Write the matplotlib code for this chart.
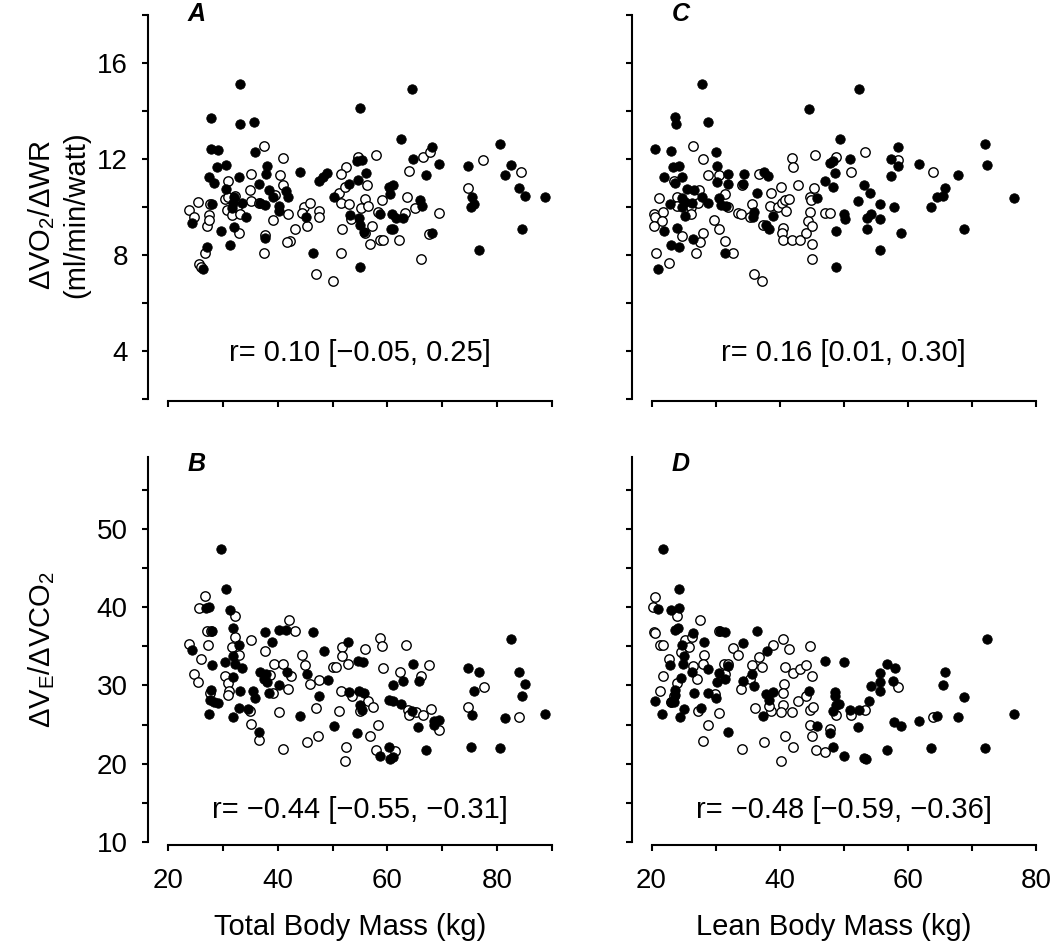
import numpy as np
import matplotlib.pyplot as plt
from matplotlib.ticker import FixedLocator

plt.rcParams['font.family'] = ['Liberation Sans', 'DejaVu Sans']
plt.rcParams['mathtext.default'] = 'regular'

# ---- data ----
# Panel A: dVO2/dWR vs total body mass
a_fill_x = [33.1, 27.8, 33.1, 35.6, 55.0, 27.8, 29.2, 35.9, 30.6, 28.9, 38.0, 37.9, 44.0, 27.4, 28.3,
            33.0, 30.6, 36.5, 38.4, 39.1, 41.5, 41.8, 28.1, 32.0, 31.9, 33.4, 31.6, 36.8, 37.7, 40.3,
            40.3, 24.3, 34.3, 29.6, 32.0, 37.6, 31.3, 27.2, 26.3, 48.9, 48.3, 47.5, 45.2, 46.4, 50.3,
            53.0, 54.7, 54.4, 55.3, 53.2, 54.9, 55.0, 55.7, 55.0, 64.4, 62.4, 68.2, 64.6, 69.4, 67.0,
            56.1, 60.3, 61.1, 60.5, 65.9, 66.3, 58.6, 60.9, 61.6, 62.8, 60.6, 61.1, 68.2, 74.6, 80.6,
            82.5, 81.4, 84.0, 85.1, 88.8, 75.5, 75.8, 75.3, 84.6, 76.7]
a_fill_y = [15.13, 13.72, 13.47, 13.54, 14.11, 12.40, 12.37, 12.28, 11.76, 11.65, 11.72, 11.38, 11.46, 11.26, 11.01,
            11.25, 10.74, 10.94, 10.69, 10.43, 10.65, 10.40, 10.13, 10.40, 10.15, 10.18, 9.97, 10.18, 10.08, 10.06,
            9.85, 9.35, 9.60, 9.00, 9.15, 8.69, 8.40, 8.35, 7.42, 11.42, 11.26, 11.08, 9.60, 8.10, 10.42,
            10.97, 11.13, 11.92, 11.96, 9.67, 9.53, 9.25, 8.97, 7.51, 14.92, 12.83, 12.49, 11.99, 11.78, 11.32,
            11.40, 10.85, 10.92, 10.54, 10.29, 10.04, 9.71, 9.71, 9.53, 9.54, 9.08, 9.07, 8.93, 11.72, 12.63,
            11.76, 11.33, 10.78, 10.47, 10.40, 10.43, 10.13, 10.01, 9.08, 8.19]
a_open_x = [37.5, 41.0, 31.0, 35.1, 40.4, 41.0, 35.0, 25.5, 23.9, 24.8, 27.4, 27.2, 27.7, 27.4, 30.7,
            30.4, 31.0, 32.2, 32.6, 31.6, 33.1, 35.1, 36.5, 39.5, 39.2, 41.9, 32.9, 37.7, 43.1, 42.2,
            41.7, 37.5, 26.7, 25.7, 26.0, 44.8, 45.9, 44.5, 47.6, 47.6, 45.4, 47.0, 50.1, 51.6, 51.8,
            51.2, 51.5, 53.0, 53.3, 52.3, 52.4, 51.6, 54.7, 55.1, 56.0, 56.0, 57.9, 56.3, 56.5, 57.1,
            56.8, 59.0, 58.2, 63.6, 63.2, 65.0, 64.0, 66.4, 67.8, 69.4, 58.6, 59.2, 62.2, 67.5, 66.1,
            77.5, 74.7, 84.3]
a_open_y = [12.56, 12.03, 11.08, 11.36, 11.33, 10.92, 10.71, 10.22, 9.88, 9.60, 9.67, 9.22, 10.13, 9.46, 9.88,
            10.32, 10.43, 10.46, 9.99, 9.67, 9.69, 10.26, 10.15, 10.50, 9.46, 9.69, 8.90, 8.83, 9.07, 8.58,
            8.56, 8.10, 8.10, 7.63, 7.51, 9.99, 10.18, 9.76, 9.85, 9.57, 9.22, 7.19, 6.93, 8.10, 9.07,
            10.60, 10.18, 10.11, 9.49, 10.85, 11.65, 11.38, 12.07, 9.94, 10.32, 8.90, 12.17, 10.92, 10.04, 9.22,
            8.46, 10.29, 9.81, 10.43, 9.74, 9.94, 11.50, 12.07, 12.29, 9.74, 8.63, 8.63, 8.63, 8.88, 7.82,
            11.96, 10.81, 11.46]

# Panel C: dVO2/dWR vs lean body mass
c_fill_x = [27.8, 23.6, 23.8, 28.8, 44.5, 20.5, 23.1, 30.0, 23.4, 24.3, 30.2, 21.9, 24.8, 23.6, 30.2,
            32.0, 31.9, 34.4, 34.3, 37.5, 38.1, 25.5, 26.6, 27.9, 24.7, 25.3, 26.3, 22.9, 24.7, 28.8,
            30.5, 30.8, 31.7, 36.4, 25.3, 36.0, 35.8, 38.9, 24.0, 21.9, 37.9, 38.4, 26.5, 23.1, 24.3,
            31.5, 21.0, 52.3, 49.4, 45.9, 47.8, 48.3, 48.7, 51.0, 47.1, 48.3, 50.0, 50.2, 48.8, 48.8,
            52.2, 53.1, 54.1, 55.7, 53.7, 54.2, 55.6, 53.6, 55.6, 57.8, 59.0, 57.3, 58.5, 58.4, 57.3,
            61.8, 63.6, 64.6, 65.8, 65.5, 67.9, 68.7, 72.0, 72.4, 76.6]
c_fill_y = [15.11, 13.74, 13.46, 13.54, 14.08, 12.40, 12.35, 12.28, 11.65, 11.72, 11.72, 11.26, 11.24, 10.99, 11.06,
            11.36, 10.94, 11.38, 10.96, 11.44, 11.29, 10.74, 10.71, 10.43, 10.39, 10.22, 10.18, 10.13, 10.01, 10.18,
            10.36, 10.08, 10.06, 10.60, 9.63, 9.81, 9.57, 9.64, 9.14, 9.00, 9.25, 9.07, 8.67, 8.42, 8.35,
            8.10, 7.40, 14.90, 12.83, 10.39, 11.85, 11.93, 11.40, 11.99, 11.10, 10.83, 9.71, 9.49, 9.00, 7.50,
            10.25, 10.92, 10.57, 10.13, 9.56, 9.69, 9.51, 9.07, 8.19, 10.01, 8.92, 11.99, 11.71, 12.49, 11.31,
            11.78, 10.01, 10.43, 10.78, 10.47, 11.33, 9.08, 12.63, 11.74, 10.39]
c_open_x = [26.4, 28.0, 28.8, 30.5, 23.5, 27.4, 21.2, 24.0, 24.0, 26.1, 27.2, 31.4, 32.0, 20.4, 20.6,
            21.8, 21.7, 20.4, 26.1, 24.7, 28.1, 27.6, 26.9, 29.8, 30.5, 31.5, 32.7, 20.7, 22.7, 33.5,
            34.0, 34.1, 35.3, 35.7, 36.7, 38.6, 38.5, 40.2, 39.8, 40.3, 40.8, 41.4, 41.0, 40.5, 40.4,
            40.5, 41.9, 43.1, 44.1, 42.8, 41.9, 42.1, 37.4, 44.8, 44.9, 44.7, 44.4, 45.0, 45.1, 45.1,
            45.4, 45.5, 36.0, 37.2, 48.8, 51.1, 53.3, 58.5, 63.9, 47.1, 47.8]
c_open_y = [12.54, 12.01, 11.33, 11.33, 11.10, 10.71, 10.36, 10.43, 10.06, 10.01, 10.15, 10.54, 10.01, 9.69, 9.60,
            9.81, 9.42, 9.22, 9.69, 8.79, 8.90, 8.56, 8.10, 9.46, 9.07, 8.58, 8.10, 8.10, 7.68, 9.74,
            9.69, 10.92, 9.60, 10.13, 11.36, 10.57, 10.06, 10.85, 9.99, 10.18, 10.29, 10.32, 9.85, 9.11, 8.90,
            8.63, 8.63, 8.63, 8.90, 10.92, 12.06, 11.65, 9.25, 10.43, 10.29, 9.78, 9.43, 9.22, 8.46, 7.82,
            10.81, 12.17, 7.19, 6.93, 12.07, 11.47, 12.29, 11.96, 11.44, 9.74, 9.74]

# Panel B: dVE/dVCO2 vs total body mass
b_fill_x = [29.6, 30.6, 26.9, 27.5, 31.3, 31.9, 28.1, 37.6, 40.3, 41.5, 46.4, 38.9, 24.3, 33.0, 28.1,
            30.4, 31.9, 32.2, 33.4, 52.9, 48.4, 54.7, 55.5, 36.8, 37.9, 37.5, 38.0, 41.7, 45.4, 49.1,
            31.9, 40.3, 27.8, 33.1, 35.5, 35.9, 38.4, 47.6, 27.7, 28.4, 29.2, 33.0, 34.5, 27.4, 31.8,
            44.0, 53.0, 54.9, 55.7, 55.0, 55.3, 36.5, 50.3, 54.4, 82.5, 64.6, 74.6, 76.7, 84.0, 85.1,
            84.6, 62.8, 65.7, 61.1, 75.8, 60.3, 61.1, 62.4, 64.4, 69.4, 68.4, 68.5, 65.5, 75.5, 81.4,
            88.7, 67.0, 75.3, 80.6, 60.3, 58.6, 60.5, 61.1]
b_fill_y = [47.47, 42.39, 39.92, 40.0, 39.7, 37.36, 37.0, 36.8, 37.1, 37.06, 36.9, 35.57, 34.58, 35.2, 32.66,
            33.0, 33.73, 32.75, 32.24, 35.5, 34.45, 33.1, 33.0, 31.68, 31.5, 30.8, 30.4, 31.68, 31.5, 30.66,
            31.08, 30.0, 29.38, 29.33, 29.25, 28.4, 29.0, 28.6, 28.2, 27.84, 27.76, 27.1, 27.0, 26.4, 25.96,
            26.13, 29.16, 29.25, 29.1, 27.54, 26.9, 24.04, 24.77, 23.9, 36.0, 32.8, 32.24, 31.68, 31.72, 30.19,
            28.6, 30.53, 30.53, 30.0, 29.33, 28.1, 27.97, 27.63, 26.8, 25.6, 25.4, 24.98, 24.64, 26.18, 25.9,
            26.35, 21.78, 22.08, 21.95, 22.2, 20.93, 20.67, 20.8]
b_open_x = [26.7, 25.7, 32.3, 42.0, 43.1, 27.2, 27.8, 32.2, 27.3, 23.9, 35.1, 31.6, 32.9, 37.7, 26.1,
            44.5, 45.0, 51.7, 51.7, 55.9, 52.9, 50.1, 50.7, 39.3, 40.9, 24.8, 25.4, 30.4, 30.9, 31.1,
            31.0, 38.6, 42.5, 39.2, 41.9, 45.9, 47.6, 27.7, 51.5, 53.5, 35.0, 35.1, 40.3, 47.0, 51.2,
            55.0, 36.5, 41.0, 45.4, 47.4, 52.4, 52.3, 58.7, 59.1, 63.3, 59.2, 62.3, 66.2, 67.5, 56.5,
            57.3, 63.8, 64.0, 65.2, 66.4, 67.9, 69.4, 58.3, 56.8, 57.9, 61.4, 74.7, 77.6, 84.0]
b_open_y = [41.41, 39.92, 38.94, 38.34, 36.93, 36.93, 37.0, 36.2, 35.2, 35.3, 35.86, 34.9, 33.94, 34.37, 33.43,
            33.94, 32.66, 34.9, 33.73, 34.67, 32.79, 32.36, 32.32, 32.75, 32.79, 31.5, 30.4, 31.17, 30.3, 29.33,
            28.8, 31.38, 31.17, 29.0, 29.6, 30.19, 30.74, 29.0, 29.25, 28.7, 26.7, 25.1, 26.56, 27.1, 26.77,
            26.69, 23.06, 21.87, 22.76, 23.57, 22.2, 20.41, 36.08, 35.0, 35.2, 32.24, 31.68, 31.25, 32.58, 27.97,
            27.2, 26.9, 26.26, 26.56, 26.18, 27.03, 24.34, 24.98, 23.57, 21.78, 21.57, 27.24, 29.76, 25.96]

# Panel D: dVE/dVCO2 vs lean body mass
d_fill_x = [21.8, 24.3, 21.0, 23.1, 24.3, 23.6, 24.2, 26.5, 30.7, 31.5, 36.4, 28.2, 34.3, 24.8, 38.0,
            25.1, 22.9, 24.9, 26.3, 28.8, 30.5, 31.5, 32.0, 30.2, 34.3, 35.7, 36.0, 24.6, 23.6, 23.7,
            26.6, 28.8, 30.0, 20.5, 23.0, 23.5, 37.8, 39.0, 38.4, 44.5, 21.7, 25.0, 24.4, 27.7, 37.4,
            31.9, 47.1, 50.1, 56.8, 58.0, 55.6, 55.6, 54.2, 55.7, 57.7, 48.7, 48.7, 49.3, 48.8, 48.3,
            51.0, 52.3, 54.0, 52.2, 45.9, 47.8, 48.3, 50.1, 53.1, 53.5, 56.8, 57.9, 59.0, 61.8, 64.6,
            65.8, 65.5, 68.7, 67.8, 72.4, 63.6, 72.0, 76.6]
d_fill_y = [47.47, 42.35, 39.83, 39.62, 39.92, 37.06, 37.36, 36.7, 37.0, 36.85, 37.0, 35.57, 35.44, 35.14, 34.37,
            33.73, 32.66, 32.75, 31.68, 32.15, 31.6, 30.83, 32.45, 30.4, 30.6, 31.5, 29.9, 30.96, 29.38, 28.8,
            29.0, 29.1, 28.4, 28.05, 27.84, 27.84, 28.9, 29.16, 28.2, 29.33, 26.4, 27.0, 26.0, 27.1, 26.1,
            24.04, 33.1, 32.96, 32.75, 32.24, 31.6, 30.44, 29.97, 29.33, 30.6, 29.16, 28.7, 27.63, 27.46, 26.77,
            26.9, 26.9, 27.97, 24.64, 24.77, 23.9, 22.08, 20.93, 20.71, 20.63, 21.78, 25.3, 24.85, 25.5, 26.13,
            31.68, 30.1, 28.5, 25.96, 36.0, 21.99, 21.95, 26.35]
d_open_x = [20.6, 20.3, 20.4, 20.5, 21.4, 21.8, 24.0, 27.6, 25.3, 26.3, 25.9, 24.6, 22.8, 28.2, 28.1,
            26.5, 21.8, 24.0, 27.1, 21.4, 23.5, 23.1, 27.3, 29.9, 28.8, 30.5, 28.0, 30.5, 31.3, 32.0,
            31.5, 32.7, 33.5, 34.0, 35.7, 36.8, 37.2, 35.4, 36.1, 39.0, 40.5, 41.4, 40.9, 40.7, 40.5,
            40.5, 40.2, 38.7, 38.4, 41.9, 42.8, 42.1, 43.2, 44.1, 45.1, 44.1, 44.8, 44.7, 45.2, 44.7,
            45.0, 45.6, 40.9, 42.1, 37.5, 34.1, 40.2, 47.1, 47.8, 48.8, 51.1, 53.3, 58.5, 63.9]
d_open_y = [41.33, 40.0, 36.85, 36.7, 35.2, 35.2, 38.94, 38.34, 35.86, 36.16, 34.9, 34.24, 33.43, 33.94, 32.79,
            32.45, 31.17, 30.3, 30.83, 29.25, 28.6, 27.84, 26.77, 28.95, 24.98, 26.47, 22.97, 36.93, 32.79, 32.79,
            31.5, 34.8, 33.94, 29.55, 32.66, 33.64, 32.32, 30.83, 27.1, 35.2, 35.99, 34.67, 32.32, 30.19, 29.1,
            27.54, 26.56, 26.69, 27.33, 26.6, 28.05, 31.6, 32.15, 32.58, 31.17, 28.6, 35.0, 26.9, 27.2, 24.98,
            23.57, 21.78, 23.5, 22.2, 22.76, 21.87, 20.41, 21.48, 24.43, 26.26, 26.26, 26.9, 29.76, 25.92]

r_texts = ['r= 0.10 [\u22120.05, 0.25]', 'r= 0.16 [0.01, 0.30]',
           'r= \u22120.44 [\u22120.55, \u22120.31]', 'r= \u22120.48 [\u22120.59, \u22120.36]']
panel_letters = ['A', 'C', 'B', 'D']

# ---- layout ----
W, H = 1050, 952
fig = plt.figure(figsize=(W / 100, H / 100), dpi=100)


def box(l, t, r, b):
    return [l / W, 1 - b / H, (r - l) / W, (b - t) / H]


ax_a = fig.add_axes(box(148, 15, 552, 401))
ax_c = fig.add_axes(box(632, 15, 1036, 401))
ax_b = fig.add_axes(box(148, 457, 552, 845))
ax_d = fig.add_axes(box(632, 457, 1036, 845))

panels = [
    (ax_a, a_fill_x, a_fill_y, a_open_x, a_open_y, 90, True),
    (ax_c, c_fill_x, c_fill_y, c_open_x, c_open_y, 80, True),
    (ax_b, b_fill_x, b_fill_y, b_open_x, b_open_y, 90, False),
    (ax_d, d_fill_x, d_fill_y, d_open_x, d_open_y, 80, False),
]

fs = 20
for i, (ax, fx, fy, ox, oy, xmax, top) in enumerate(panels):
    ax.scatter(ox, oy, s=46, facecolor='white', edgecolor='black', linewidth=1.0, zorder=2, clip_on=False)
    ax.scatter(fx, fy, s=46, facecolor='black', edgecolor='black', linewidth=0.6, zorder=3, clip_on=False)

    # x axis
    xspan = 384.0 / (xmax - 20)        # px per kg
    ax.set_xlim(20 - (19.5 if xmax == 80 else 20) / xspan, xmax)
    ax.spines['bottom'].set_bounds(20, xmax)
    ax.xaxis.set_major_locator(FixedLocator(np.arange(20, xmax + 1, 20)))
    ax.xaxis.set_minor_locator(FixedLocator(np.arange(30, xmax + 1, 20)))

    # y axis
    if top:
        ax.set_ylim(2 - 2 / 24, 18)
        ax.spines['left'].set_bounds(2, 18)
        ax.yaxis.set_major_locator(FixedLocator([4, 8, 12, 16]))
        ax.yaxis.set_minor_locator(FixedLocator([2, 6, 10, 14, 18]))
        ax.text(0.5 * (20 + xmax), 3.9, r_texts[i], ha='center', va='center', fontsize=21)
        ax.text(20 + 29 / xspan, 18.05, panel_letters[i], ha='center', va='center',
                fontsize=18, fontweight='bold', style='italic')
    else:
        ax.set_ylim(10 - 3 / 7.83, 59.2)
        ax.spines['left'].set_bounds(10, 59.2)
        ax.yaxis.set_major_locator(FixedLocator([10, 20, 30, 40, 50]))
        ax.yaxis.set_minor_locator(FixedLocator([15, 25, 35, 45, 55]))
        ax.text(0.5 * (20 + xmax), 14.1, r_texts[i], ha='center', va='center', fontsize=21)
        ax.text(20 + 29 / xspan, 58.3, panel_letters[i], ha='center', va='center',
                fontsize=18, fontweight='bold', style='italic')

    for side in ['top', 'right']:
        ax.spines[side].set_visible(False)
    for side in ['left', 'bottom']:
        ax.spines[side].set_linewidth(1.5)
    ax.tick_params(which='both', direction='out', length=4.5, width=1.5)
    ax.tick_params(axis='y', which='major', labelsize=fs, pad=10)
    ax.tick_params(axis='x', which='major', labelsize=fs, pad=12)
    if ax in (ax_c, ax_d):
        ax.tick_params(axis='y', labelleft=False)
    if top:
        ax.tick_params(axis='x', labelbottom=False)

ax_b.set_xlabel('Total Body Mass (kg)', fontsize=21, labelpad=14)
ax_d.set_xlabel('Lean Body Mass (kg)', fontsize=21, labelpad=14)

fig.text(42 / W, 1 - 215 / H, '\u0394VO$_2$/\u0394WR', rotation=90, ha='center', va='center', fontsize=21)
fig.text(76 / W, 1 - 215 / H, '(ml/min/watt)', rotation=90, ha='center', va='center', fontsize=21)
fig.text(42 / W, 1 - 650 / H, '\u0394V$_E$/\u0394VCO$_2$', rotation=90, ha='center', va='center', fontsize=21)

fig.savefig('out.png', dpi=100)
